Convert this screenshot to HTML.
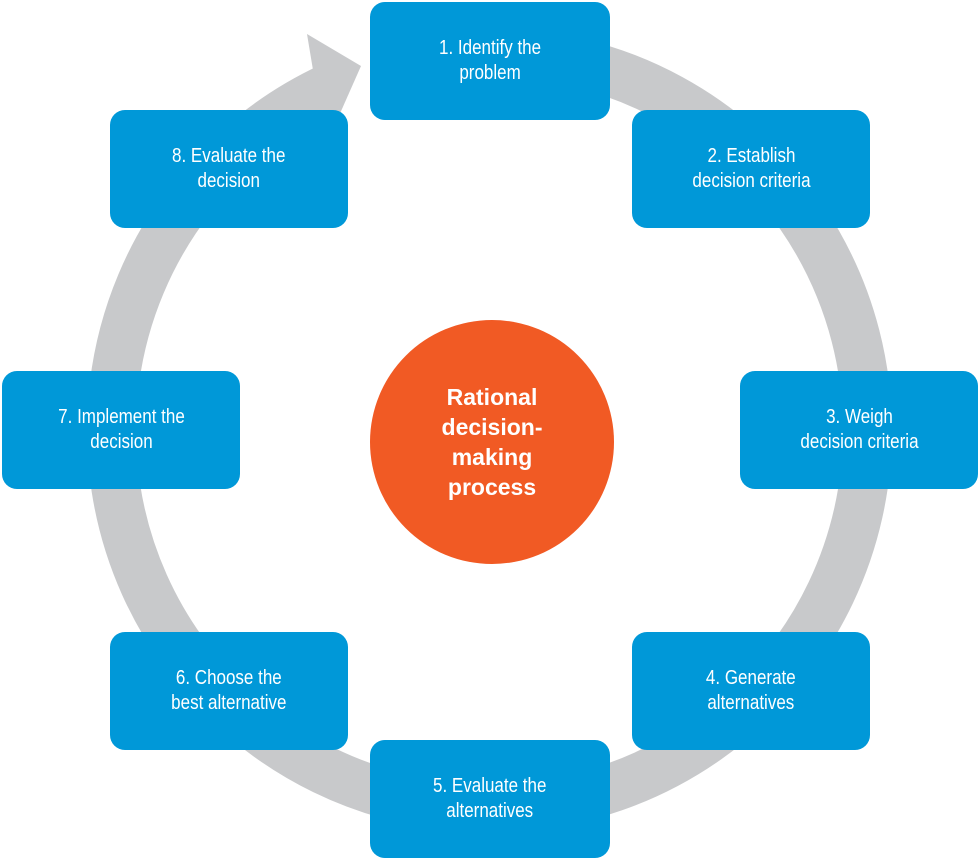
<!DOCTYPE html>
<html><head><style>
body{margin:0;width:980px;height:860px;background:#fff;position:relative;overflow:hidden;font-family:"Liberation Sans",sans-serif}
.b{position:absolute;width:238px;height:118px;background:#0098d8;border-radius:15px;color:#fff;display:flex;align-items:center;justify-content:center;text-align:center}
.b span{display:inline-block;font-size:20px;line-height:25px;transform:scaleX(0.85)}
.c{position:absolute;left:370px;top:320px;width:244px;height:244px;border-radius:50%;background:#f15a24;color:#fff;font-weight:bold;font-size:23px;line-height:30px;display:flex;align-items:center;justify-content:center;text-align:center}
</style></head><body>
<svg width="980" height="860" style="position:absolute;left:0;top:0">
<path d="M400 63 A378 378 0 1 1 330.3 87.4" fill="none" stroke="#c8c9cb" stroke-width="49"/>
<polygon points="307,34 361,66 338,118 318,100" fill="#c8c9cb"/>
</svg>
<div class="b" style="left:370px;top:2px;width:240px"><span>1. Identify the<br>problem</span></div>
<div class="b" style="left:632px;top:110px"><span>2. Establish<br>decision criteria</span></div>
<div class="b" style="left:740px;top:371px"><span>3. Weigh<br>decision criteria</span></div>
<div class="b" style="left:632px;top:632px"><span>4. Generate<br>alternatives</span></div>
<div class="b" style="left:370px;top:740px;width:240px"><span>5. Evaluate the<br>alternatives</span></div>
<div class="b" style="left:110px;top:632px"><span>6. Choose the<br>best alternative</span></div>
<div class="b" style="left:2px;top:371px"><span>7. Implement the<br>decision</span></div>
<div class="b" style="left:110px;top:110px"><span>8. Evaluate the<br>decision</span></div>
<div class="c"><div>Rational<br>decision-<br>making<br>process</div></div>
</body></html>
